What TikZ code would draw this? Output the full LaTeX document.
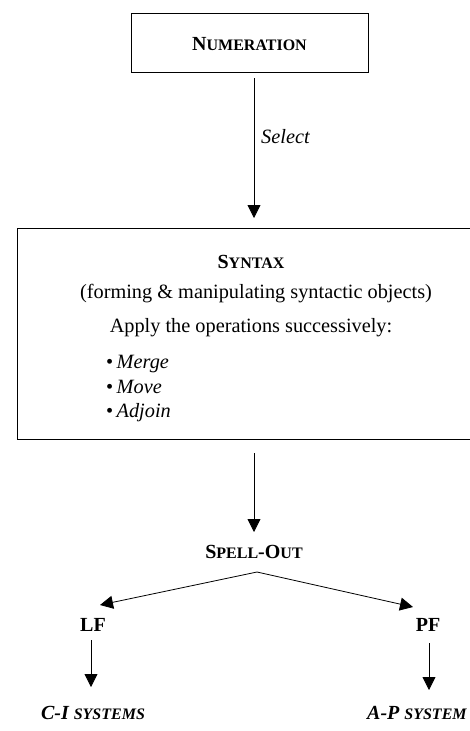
\documentclass[tikz,border=0pt]{standalone}
\usepackage{fontspec}
\setmainfont{Liberation Serif}
\usetikzlibrary{arrows.meta}
\newcommand\fsc[1]{{\fontsize{16}{19}\selectfont #1}}
\begin{document}
\begin{tikzpicture}[x=1pt,y=-1pt,
  txt/.style={inner sep=0pt, font=\fontsize{20.3}{24}\selectfont},
  hd/.style={txt, font=\fontsize{20}{24}\selectfont\bfseries},
  box/.style={draw, line width=0.9pt, inner sep=0pt},
  arr/.style={line width=0.8pt, -{Triangle[width=13pt,length=13pt]}}]
\useasboundingbox (0,0) rectangle (470,731);
\clip (0,0) rectangle (470,731);
% Numeration
\node[box, minimum width=237pt, minimum height=59pt] (num) at (249.5,42.5) {};
\node[hd] (numt) at (249.5,44) {N\fsc{UMERATION}};
\coordinate (a1s) at (254,78);
\coordinate (a1e) at (254,218);
\draw[arr] (a1s) -- (a1e);
\node[txt, anchor=west, font=\fontsize{20.3}{24}\selectfont\itshape] (sel) at (261,137) {Select};
% Syntax box
\node[box, minimum width=474pt, minimum height=211pt] (syn) at (254,333.5) {};
\node[hd] (synt) at (251,262) {S\fsc{YNTAX}};
\node[txt] (form) at (256,294) {(forming \& manipulating syntactic objects)};
\node[txt] (apply) at (251,328) {Apply the operations successively:};
\node[txt, anchor=base west] (m1) at (106,368) {\textbullet\,\textit{Merge}};
\node[txt, anchor=base west] (m2) at (106,393) {\textbullet\,\textit{Move}};
\node[txt, anchor=base west] (m3) at (106,417) {\textbullet\,\textit{Adjoin}};
% Spell-Out
\coordinate (a2s) at (254,453);
\coordinate (a2e) at (254,532);
\draw[arr] (a2s) -- (a2e);
\node[hd] (so) at (254,552) {S\fsc{PELL}-O\fsc{UT}};
\coordinate (br) at (257,572);
\coordinate (lftip) at (100,605);
\coordinate (pftip) at (413,607);
\draw[arr] (br) -- (lftip);
\draw[arr] (br) -- (pftip);
\node[hd] (lf) at (93,625) {LF};
\node[hd] (pf) at (428,625) {PF};
\coordinate (a3s) at (91,640);
\coordinate (a3e) at (91,687);
\coordinate (a4s) at (429,643);
\coordinate (a4e) at (429,690);
\draw[arr] (a3s) -- (a3e);
\draw[arr] (a4s) -- (a4e);
\node[hd, font=\fontsize{20}{24}\selectfont\bfseries\itshape] (ci) at (93,713) {C-I \fsc{SYSTEMS}};
\node[hd, anchor=west, font=\fontsize{20}{24}\selectfont\bfseries\itshape] (ap) at (367,713) {A-P \fsc{SYSTEM}};
\end{tikzpicture}
\end{document}
